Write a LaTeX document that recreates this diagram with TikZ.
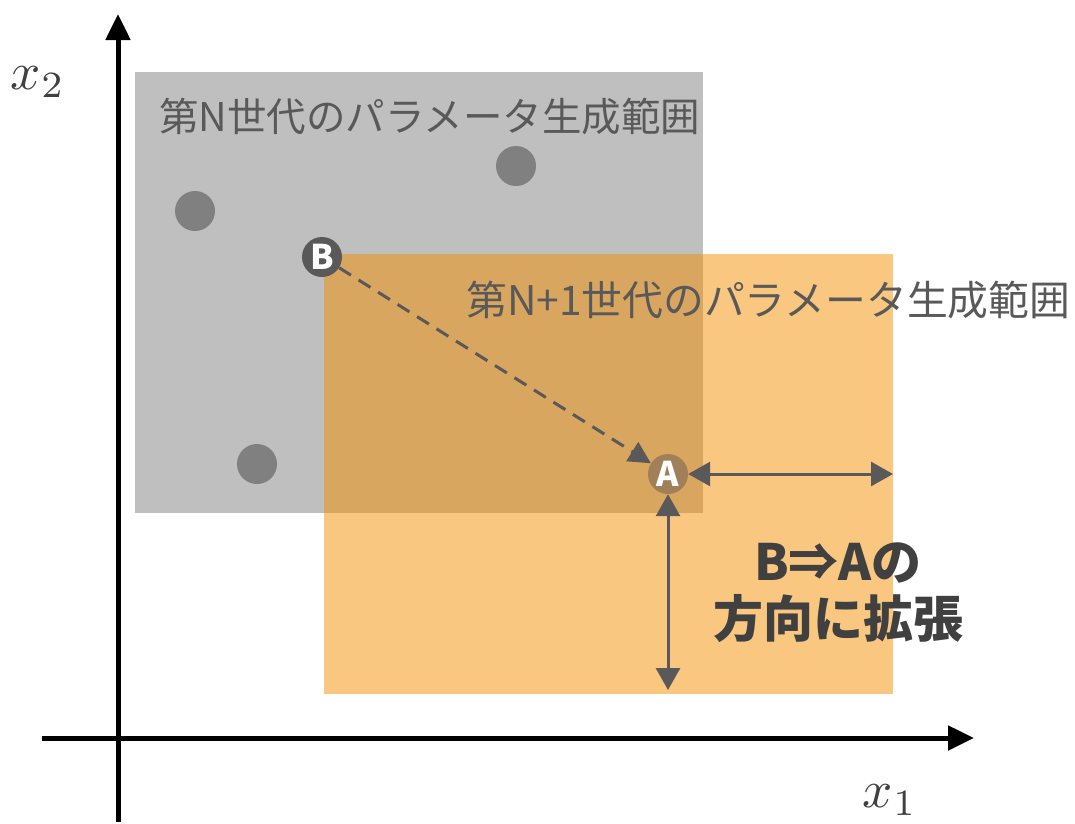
\documentclass[tikz,border=0pt]{standalone}
\usepackage{fontspec}
\newfontfamily\jp{Noto Sans CJK JP}
\usetikzlibrary{arrows.meta}
\definecolor{rectgray}{RGB}{191,191,191}
\definecolor{orangebase}{RGB}{243,143,0}
\definecolor{dotgray}{RGB}{128,128,128}
\definecolor{darkg}{RGB}{89,89,89}
\definecolor{txtdark}{RGB}{64,64,64}
\definecolor{abrown}{RGB}{160,128,88}
\tikzset{
  area/.style={draw=none, inner sep=0pt, outer sep=0pt},
  dot/.style={circle, fill=dotgray, minimum size=40pt, inner sep=0pt},
  ptlabel/.style={circle, minimum size=40pt, inner sep=0pt, text=white, font=\jp\bfseries\fontsize{34}{34}\selectfont},
  axis/.style={line width=5pt, -{Triangle[length=26pt,width=24pt]}},
  darrow/.style={draw=darkg, line width=3pt, {Triangle[length=22pt,width=24pt]}-{Triangle[length=22pt,width=24pt]}},
  glabel/.style={anchor=west, text=darkg, inner sep=0pt},
  blabel/.style={align=center, text=txtdark, inner sep=0pt, font=\jp\bfseries\fontsize{50}{57}\selectfont},
  axlabel/.style={inner sep=0pt, text=txtdark}
}
\begin{document}
\begin{tikzpicture}[x=1pt,y=-1pt]
\useasboundingbox (0,0) rectangle (1075,823);
\node[area, fill=rectgray, minimum width=568pt, minimum height=441pt] (genN) at (419,292.5) {};
\node[area, fill=orangebase, fill opacity=0.5, minimum width=569pt, minimum height=440pt] (genN1) at (608.5,474) {};
% axes
\coordinate (yb) at (118,822);
\coordinate (yt) at (118,14);
\coordinate (xl) at (42,738);
\coordinate (xr) at (974,738);
\draw[axis] (yb) -- (yt);
\draw[axis] (xl) -- (xr);
\node[axlabel] (x2) at (38,82) {\scalebox{5.3}{$x_2$}};
\node[axlabel] (x1) at (890,800) {\scalebox{5.3}{$x_1$}};
% dots
\node[dot] (d1) at (195,211) {};
\node[dot] (d2) at (516,166) {};
\node[dot] (d3) at (257,464) {};
\node[ptlabel, fill=darkg] (B) at (322,257) {B};
\node[ptlabel, fill=abrown] (A) at (668,474) {A};
% labels
\node[glabel, font=\jp\fontsize{39.5}{42}\selectfont] (tN) at (159,117) {第N世代のパラメータ生成範囲};
\node[glabel, font=\jp\fontsize{40.8}{42}\selectfont] (tN1) at (466,300) {第N+1世代のパラメータ生成範囲};
\node[blabel] (dir) at (838,593) {B⇒Aの\\方向に拡張};
% arrows
\coordinate (hr) at (893,474);
\coordinate (vb) at (668,690);
\draw[darkg, line width=3pt, dash pattern=on 14pt off 9pt, -{Triangle[length=22pt,width=22pt]}] (B) -- (A);
\draw[darrow] (A) -- (hr);
\draw[darrow] (A) -- (vb);
\end{tikzpicture}
\end{document}
